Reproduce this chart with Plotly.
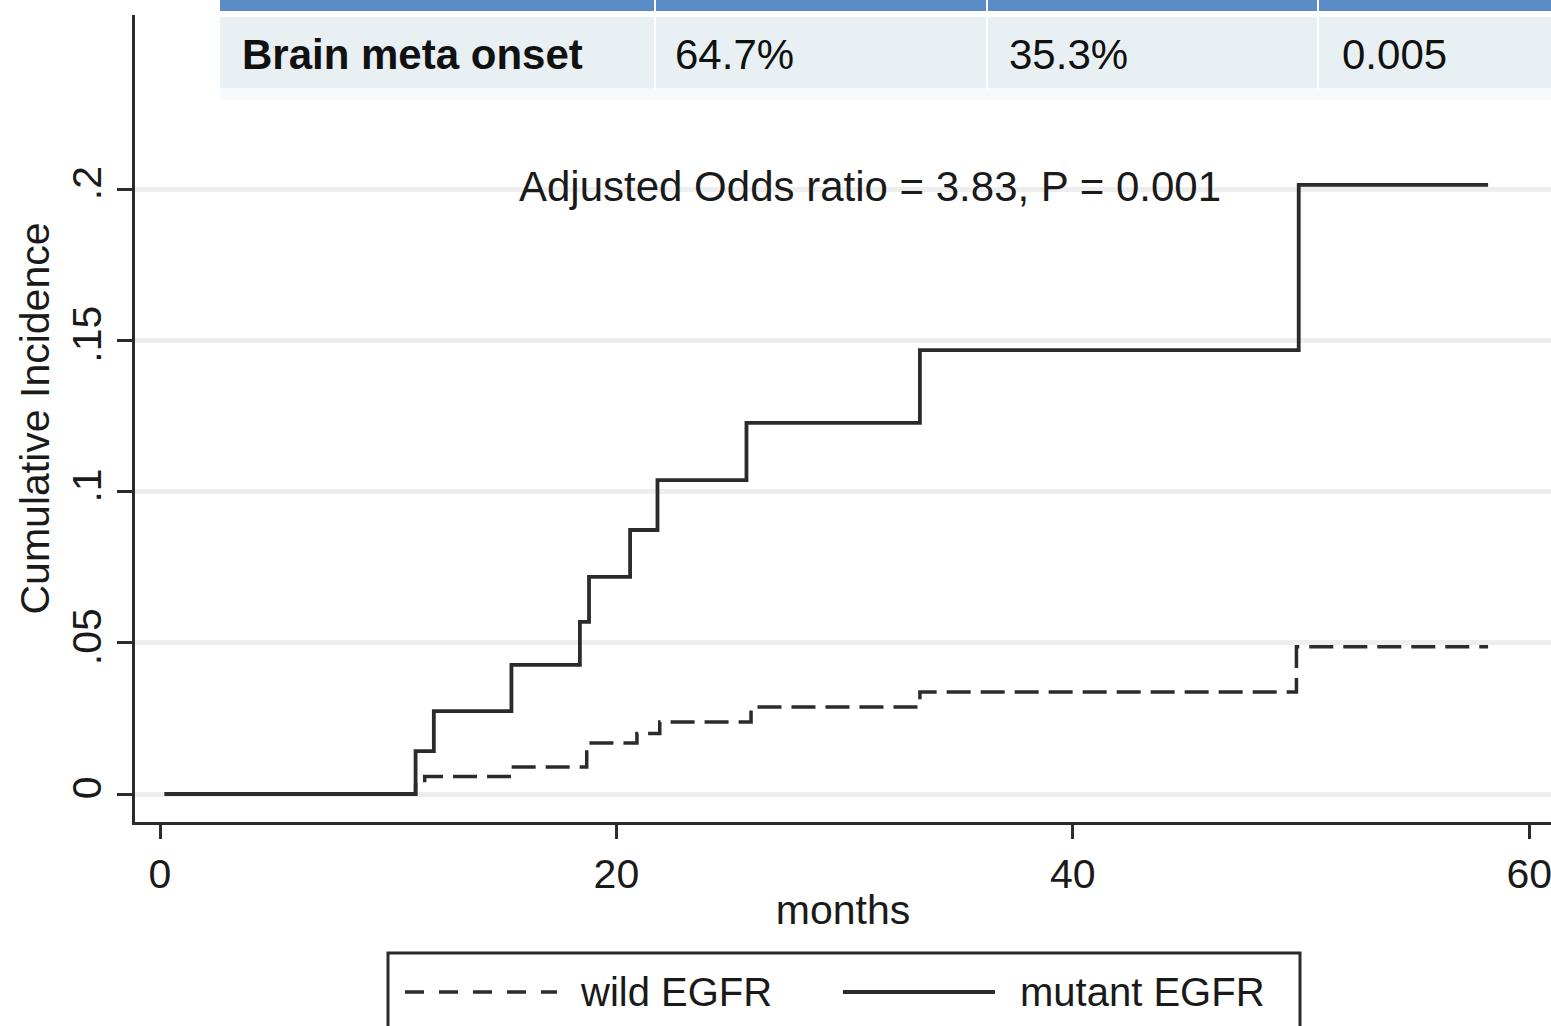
import plotly.graph_objects as go

# Cumulative incidence of brain metastasis by EGFR status
months_mutant = [0.2, 11.2, 12.0, 15.4, 18.4, 18.8, 20.6, 21.8, 25.7, 33.3, 49.9, 58.2]
ci_mutant = [0, 0.0142, 0.0274, 0.0427, 0.0569, 0.0718, 0.0873, 0.1038, 0.1227, 0.1468, 0.2014, 0.2014]

months_wild = [0.2, 11.2, 11.6, 15.4, 18.7, 20.9, 21.9, 25.9, 33.3, 49.8, 58.2]
ci_wild = [0, 0.0030, 0.0058, 0.0089, 0.0169, 0.0200, 0.0238, 0.0288, 0.0337, 0.0487, 0.0487]

x_ticks = [0, 20, 40, 60]
y_ticks = [0, 0.05, 0.10, 0.15, 0.20]
y_tick_labels = ["0", ".05", ".1", ".15", ".2"]

table_cells = ["Brain meta onset", "64.7%", "35.3%", "0.005"]
legend_labels = ["wild EGFR", "mutant EGFR"]
annotation_text = "Adjusted Odds ratio = 3.83, P = 0.001"

W, H = 1551, 1026
ML, MR, MT, MB = 135, 0, 15, 204
PW, PH = W - ML - MR, H - MT - MB

def px(x):
    return (x - ML) / PW

def py(y):
    return (H - MB - y) / PH

FONT = "Liberation Sans, Arial, sans-serif"
INK = "#2b2b2b"

fig = go.Figure()
fig.add_trace(go.Scatter(
    x=months_wild, y=ci_wild, mode="lines", line_shape="hv",
    line=dict(color=INK, width=3.5, dash="24px,10px"),
    name=legend_labels[0], showlegend=False,
))
fig.add_trace(go.Scatter(
    x=months_mutant, y=ci_mutant, mode="lines", line_shape="hv",
    line=dict(color=INK, width=3.8),
    name=legend_labels[1], showlegend=False,
))

shapes = []
annotations = []

# header band and first row of the summary table
col_edges = [220, 655, 987, 1318, 1560]
shapes.append(dict(type="rect", xref="paper", yref="paper",
                   x0=px(220), x1=px(1560), y0=py(11), y1=py(-20),
                   fillcolor="#5b8cc7", line_width=0, layer="above"))
shapes.append(dict(type="rect", xref="paper", yref="paper",
                   x0=px(220), x1=px(1560), y0=py(88), y1=py(17),
                   fillcolor="#e9f0f4", line_width=0, layer="above"))
# soft fade under the table row
shapes.append(dict(type="rect", xref="paper", yref="paper",
                   x0=px(220), x1=px(1560), y0=py(100), y1=py(88),
                   fillcolor="#f7f9fa", line_width=0, layer="above"))
for ce in col_edges[1:-1]:
    shapes.append(dict(type="line", xref="paper", yref="paper",
                       x0=px(ce), x1=px(ce), y0=py(90), y1=py(-20),
                       line=dict(color="#ffffff", width=2), layer="above"))
text_left = [240, 673, 1007, 1340]
for i, (t, xl) in enumerate(zip(table_cells, text_left)):
    annotations.append(dict(
        text=f"<b>{t}</b>" if i == 0 else t,
        xref="paper", yref="paper", x=px(xl), y=py(54),
        xanchor="left", yanchor="middle", showarrow=False,
        font=dict(family=FONT, size=42, color="#111111"),
    ))

annotations.append(dict(
    text=annotation_text, xref="paper", yref="paper",
    x=px(870), y=py(186), xanchor="center", yanchor="middle",
    showarrow=False, font=dict(family=FONT, size=42, color="#1a1a1a"),
))

# legend box
shapes.append(dict(type="rect", xref="paper", yref="paper",
                   x0=px(388), x1=px(1300), y0=py(1040), y1=py(953),
                   fillcolor="white", line=dict(color=INK, width=3)))
shapes.append(dict(type="line", xref="paper", yref="paper",
                   x0=px(405), x1=px(557), y0=py(992), y1=py(992),
                   line=dict(color=INK, width=3.5, dash="19px,15px")))
shapes.append(dict(type="line", xref="paper", yref="paper",
                   x0=px(843), x1=px(995), y0=py(992), y1=py(992),
                   line=dict(color=INK, width=3.8)))
for lab, xl in zip(legend_labels, [578, 1018]):
    annotations.append(dict(
        text=lab, xref="paper", yref="paper", x=px(xl), y=py(992),
        xanchor="left", yanchor="middle", showarrow=False,
        font=dict(family=FONT, size=40, color="#1a1a1a"),
    ))

fig.update_layout(
    width=W, height=H,
    margin=dict(l=ML, r=MR, t=MT, b=MB, pad=0),
    paper_bgcolor="white", plot_bgcolor="white",
    font=dict(family=FONT, size=42, color="#1a1a1a"),
    showlegend=False,
    shapes=shapes, annotations=annotations,
    xaxis=dict(
        range=[(ML - 160) / 22.82, (W - 160) / 22.82],
        tickvals=x_ticks, ticks="outside", ticklen=14, tickwidth=3,
        tickcolor=INK, showline=True, linewidth=3, linecolor=INK,
        showgrid=False, zeroline=False, ticklabeloverflow="allow",
        tickfont=dict(family=FONT, size=41),
        title=dict(text="months", font=dict(family=FONT, size=41), standoff=0),
    ),
    yaxis=dict(
        range=[-0.00926, 0.2576],
        tickvals=y_ticks, ticktext=y_tick_labels, tickangle=-90,
        ticks="outside", ticklen=15, tickwidth=3, tickcolor=INK,
        showline=True, linewidth=3, linecolor=INK,
        showgrid=True, gridcolor="#eeeeee", gridwidth=5, zeroline=False,
        tickfont=dict(family=FONT, size=41),
        title=dict(text="Cumulative Incidence", font=dict(family=FONT, size=41), standoff=2),
    ),
)

fig.write_html("out.html")
